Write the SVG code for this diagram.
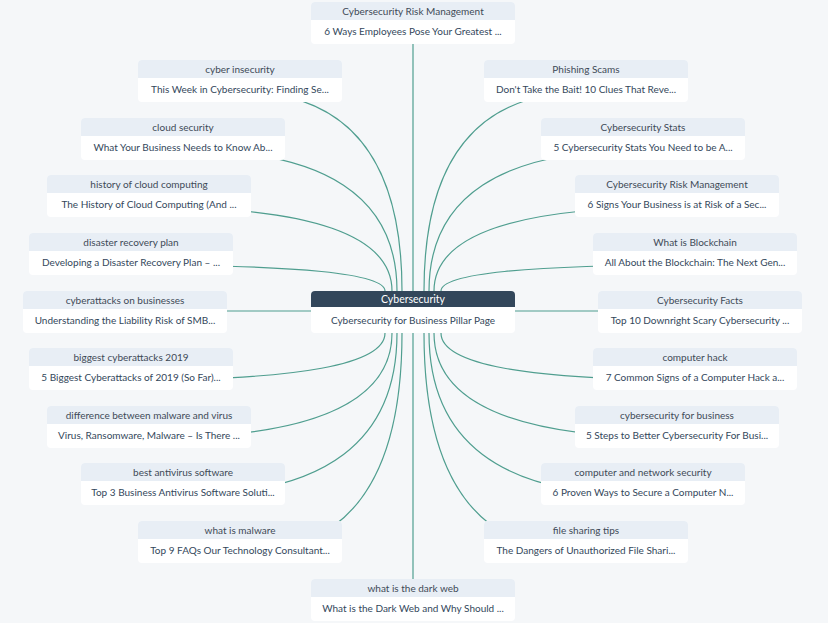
<svg xmlns="http://www.w3.org/2000/svg" width="828" height="623" viewBox="0 0 828 623">
<style>
.bg{fill:#f5f7f9}
.hd{fill:#e8eef5}
.bd{fill:#ffffff}
.ht{font-family:Lato,"Open Sans",sans-serif;font-size:10px;fill:#3e4a57;text-anchor:middle}
.bt{font-family:Lato,"Open Sans",sans-serif;font-size:10px;fill:#33475b;text-anchor:middle}
.ch{fill:#33475b}
.cht{font-family:Lato,"Open Sans",sans-serif;font-size:10.5px;fill:#ffffff;text-anchor:middle}
.ln{fill:none;stroke:#4f9e8f;stroke-width:1.2}
</style>
<defs>
<g id="card">
<rect class="bd" x="0" y="0" width="204" height="42" rx="4"/>
<path class="hd" d="M0,18 V4 Q0,0 4,0 H200 Q204,0 204,4 V18 Z"/>
</g>
</defs>
<rect class="bg" width="828" height="623"/>
<g id="connectors">
<path class="ln" d="M413,23 V600"/>
<path class="ln" d="M125,311 H700"/>
<path class="ln" d="M240,92 Q402,92 402,291"/>
<path class="ln" d="M183,150 Q397,150 397,291"/>
<path class="ln" d="M149,207 Q392,207 392,291"/>
<path class="ln" d="M131,265 Q385,265 385,291"/>
<path class="ln" d="M131,380 Q385,380 385,333"/>
<path class="ln" d="M149,438 Q392,438 392,333"/>
<path class="ln" d="M183,495 Q397,495 397,333"/>
<path class="ln" d="M240,553 Q402,553 402,333"/>
<path class="ln" d="M586,92 Q424,92 424,291"/>
<path class="ln" d="M643,150 Q429,150 429,291"/>
<path class="ln" d="M677,207 Q434,207 434,291"/>
<path class="ln" d="M695,265 Q441,265 441,291"/>
<path class="ln" d="M695,380 Q441,380 441,333"/>
<path class="ln" d="M677,438 Q434,438 434,333"/>
<path class="ln" d="M643,495 Q429,495 429,333"/>
<path class="ln" d="M586,553 Q424,553 424,333"/>
</g>
<g id="n-top" transform="translate(311,2)"><use href="#card"/><text class="ht" x="102" y="13">Cybersecurity Risk Management</text><text class="bt" x="102" y="33">6 Ways Employees Pose Your Greatest ...</text></g>
<g id="n-bottom" transform="translate(311,579)"><use href="#card"/><text class="ht" x="102" y="13">what is the dark web</text><text class="bt" x="102" y="33">What is the Dark Web and Why Should ...</text></g>
<g id="n-center" transform="translate(311,291)">
<rect class="bd" x="0" y="0" width="204" height="42" rx="4"/>
<path class="ch" d="M0,16 V4 Q0,0 4,0 H200 Q204,0 204,4 V16 Z"/>
<text class="cht" x="102" y="12">Cybersecurity</text><text class="bt" x="102" y="33">Cybersecurity for Business Pillar Page</text></g>
<g id="l1" transform="translate(138,60)"><use href="#card"/><text class="ht" x="102" y="13">cyber insecurity</text><text class="bt" x="102" y="33">This Week in Cybersecurity: Finding Se...</text></g>
<g id="l2" transform="translate(81,118)"><use href="#card"/><text class="ht" x="102" y="13">cloud security</text><text class="bt" x="102" y="33">What Your Business Needs to Know Ab...</text></g>
<g id="l3" transform="translate(47,175)"><use href="#card"/><text class="ht" x="102" y="13">history of cloud computing</text><text class="bt" x="102" y="33">The History of Cloud Computing (And ...</text></g>
<g id="l4" transform="translate(29,233)"><use href="#card"/><text class="ht" x="102" y="13">disaster recovery plan</text><text class="bt" x="102" y="33">Developing a Disaster Recovery Plan – ...</text></g>
<g id="l5" transform="translate(23,291)"><use href="#card"/><text class="ht" x="102" y="13">cyberattacks on businesses</text><text class="bt" x="102" y="33">Understanding the Liability Risk of SMB...</text></g>
<g id="l6" transform="translate(29,348)"><use href="#card"/><text class="ht" x="102" y="13">biggest cyberattacks 2019</text><text class="bt" x="102" y="33">5 Biggest Cyberattacks of 2019 (So Far)...</text></g>
<g id="l7" transform="translate(47,406)"><use href="#card"/><text class="ht" x="102" y="13">difference between malware and virus</text><text class="bt" x="102" y="33">Virus, Ransomware, Malware – Is There ...</text></g>
<g id="l8" transform="translate(81,463)"><use href="#card"/><text class="ht" x="102" y="13">best antivirus software</text><text class="bt" x="102" y="33">Top 3 Business Antivirus Software Soluti...</text></g>
<g id="l9" transform="translate(138,521)"><use href="#card"/><text class="ht" x="102" y="13">what is malware</text><text class="bt" x="102" y="33">Top 9 FAQs Our Technology Consultant...</text></g>
<g id="r1" transform="translate(484,60)"><use href="#card"/><text class="ht" x="102" y="13">Phishing Scams</text><text class="bt" x="102" y="33">Don't Take the Bait! 10 Clues That Reve...</text></g>
<g id="r2" transform="translate(541,118)"><use href="#card"/><text class="ht" x="102" y="13">Cybersecurity Stats</text><text class="bt" x="102" y="33">5 Cybersecurity Stats You Need to be A...</text></g>
<g id="r3" transform="translate(575,175)"><use href="#card"/><text class="ht" x="102" y="13">Cybersecurity Risk Management</text><text class="bt" x="102" y="33">6 Signs Your Business is at Risk of a Sec...</text></g>
<g id="r4" transform="translate(593,233)"><use href="#card"/><text class="ht" x="102" y="13">What is Blockchain</text><text class="bt" x="102" y="33">All About the Blockchain: The Next Gen...</text></g>
<g id="r5" transform="translate(598,291)"><use href="#card"/><text class="ht" x="102" y="13">Cybersecurity Facts</text><text class="bt" x="102" y="33">Top 10 Downright Scary Cybersecurity ...</text></g>
<g id="r6" transform="translate(593,348)"><use href="#card"/><text class="ht" x="102" y="13">computer hack</text><text class="bt" x="102" y="33">7 Common Signs of a Computer Hack a...</text></g>
<g id="r7" transform="translate(575,406)"><use href="#card"/><text class="ht" x="102" y="13">cybersecurity for business</text><text class="bt" x="102" y="33">5 Steps to Better Cybersecurity For Busi...</text></g>
<g id="r8" transform="translate(541,463)"><use href="#card"/><text class="ht" x="102" y="13">computer and network security</text><text class="bt" x="102" y="33">6 Proven Ways to Secure a Computer N...</text></g>
<g id="r9" transform="translate(484,521)"><use href="#card"/><text class="ht" x="102" y="13">file sharing tips</text><text class="bt" x="102" y="33">The Dangers of Unauthorized File Shari...</text></g>
</svg>
